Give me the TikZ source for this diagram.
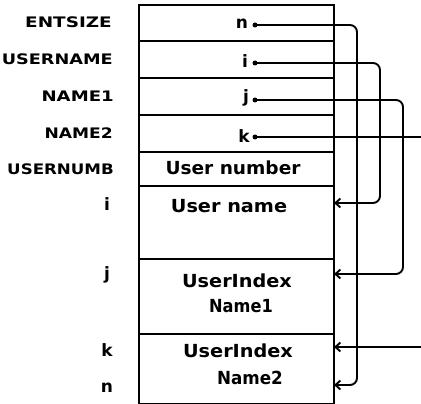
\documentclass[tikz,border=0pt]{standalone}
\usepackage{fontspec}
\setmainfont{DejaVu Sans}
\usetikzlibrary{arrows.meta}
\newcommand\wid[2]{\scalebox{#1}[1]{#2}}
\begin{document}
\begin{tikzpicture}[x=1pt,y=-1pt,
 cell/.style={draw, line width=1.8pt, minimum width=195pt, inner sep=0pt, anchor=north west},
 lab/.style={font=\fontsize{14.5}{14.5}\selectfont\bfseries, anchor=east, inner sep=0pt},
 var/.style={font=\fontsize{17}{17}\selectfont\bfseries, inner sep=0pt},
 txt/.style={font=\fontsize{18}{18}\selectfont\bfseries, inner sep=0pt},
 dot/.style={circle, fill, inner sep=0pt, minimum size=5pt},
 link/.style={line width=1.9pt, rounded corners=7pt},
 arr/.style={-{Straight Barb[length=5pt,width=9pt]}}
]
\useasboundingbox (0,0) rectangle (421,404);
% cells
\node[cell, minimum height=36.5pt] (c1) at (138,4) {};
\node[cell, minimum height=36.5pt] (c2) at (138,40.5) {};
\node[cell, minimum height=37.5pt] (c3) at (138,77) {};
\node[cell, minimum height=36.5pt] (c4) at (138,114.5) {};
\node[cell, minimum height=34pt] (c5) at (138,151) {};
\node[cell, minimum height=73pt] (c6) at (138,185) {};
\node[cell, minimum height=75pt] (c7) at (138,258) {};
\node[cell, minimum height=69.5pt] (c8) at (138,333) {};
% left labels
\node[lab] (lENT) at (112,22) {\wid{1.27}{ENTSIZE}};
\node[lab] (lUN) at (113,59) {\wid{1.22}{USERNAME}};
\node[lab] (lN1) at (114,96) {\wid{1.25}{NAME1}};
\node[lab] (lN2) at (113,133) {\wid{1.18}{NAME2}};
\node[lab] (lNUM) at (114,169) {\wid{1.15}{USERNUMB}};
\node[var] (li) at (107,204) {i};
\node[var] (lj) at (107,275) {j};
\node[var] (lk) at (107,350) {k};
\node[var] (ln) at (107,388) {n};
% in-box variables
\node[var] (vn) at (242,24) {n};
\node[var] (vi) at (245,61) {i};
\node[var] (vj) at (246,98) {j};
\node[var] (vk) at (244,136) {k};
\node[dot] (dn) at (255,25) {};
\node[dot] (di) at (255,63) {};
\node[dot] (dj) at (255,100) {};
\node[dot] (dk) at (255,137) {};
% box texts
\node[txt] (tnum) at (233,168) {\wid{1.03}{User number}};
\node[txt] (tname) at (229,206) {\wid{1.07}{User name}};
\node[txt] (tui1) at (237,281) {\wid{1.07}{UserIndex}};
\node[txt] (tnm1) at (241,306) {\wid{0.9}{Name1}};
\node[txt] (tui2) at (238,351) {\wid{1.07}{UserIndex}};
\node[txt] (tnm2) at (250,378) {\wid{0.93}{Name2}};
% connector targets
\coordinate (an) at (334,385);
\coordinate (ai) at (334,203);
\coordinate (aj) at (334,274);
\coordinate (ak) at (334,347);
\coordinate (kout) at (421,137);
\coordinate (kin) at (421,347);
% connectors
\draw[link, arr] (dn.center) -| (357,200) |- (an);
\draw[link, arr] (di.center) -| (380,120) |- (ai);
\draw[link, arr] (dj.center) -| (403,200) |- (aj);
\draw[link] (dk.center) -- (kout);
\draw[link, arr] (kin) -- (ak);
\end{tikzpicture}
\end{document}
